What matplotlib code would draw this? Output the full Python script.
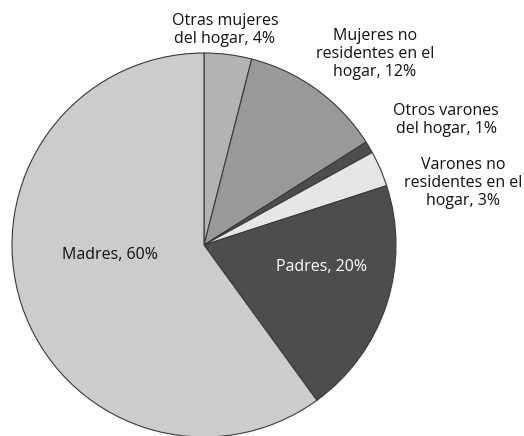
import matplotlib
matplotlib.use("Agg")
import matplotlib.pyplot as plt

categories = ["Otras mujeres\ndel hogar", "Mujeres no\nresidentes en el\nhogar",
              "Otros varones\ndel hogar", "Varones no\nresidentes en el\nhogar",
              "Padres", "Madres"]
values = [4, 12, 1, 3, 20, 60]
colors = ["#b3b3b3", "#999999", "#4d4d4d", "#e6e6e6", "#4d4d4d", "#cccccc"]

# label positions in pixel coords (x, y from top)
label_pos = [(225, 30), (375, 54), (446, 120), (463, 183), (322, 267), (110, 255)]
label_colors = ["#111111", "#111111", "#111111", "#111111", "white", "#111111"]

W, H = 524, 436
fig = plt.figure(figsize=(W / 100, H / 100), dpi=100)
ax = fig.add_axes([0, 0, 1, 1])
ax.pie(values, colors=colors, startangle=90, counterclock=False,
       center=(204, H - 245), radius=192,
       wedgeprops=dict(edgecolor="#3a3a3a", linewidth=0.8))
ax.set_xlim(0, W)
ax.set_ylim(0, H)
ax.set_aspect("equal")
ax.axis("off")

for cat, v, (x, y), c in zip(categories, values, label_pos, label_colors):
    ax.text(x, H - y, f"{cat}, {v}%", ha="center", va="center", fontsize=11.5,
            color=c, family="Open Sans", linespacing=1.18)

fig.savefig("out.png", dpi=100)
